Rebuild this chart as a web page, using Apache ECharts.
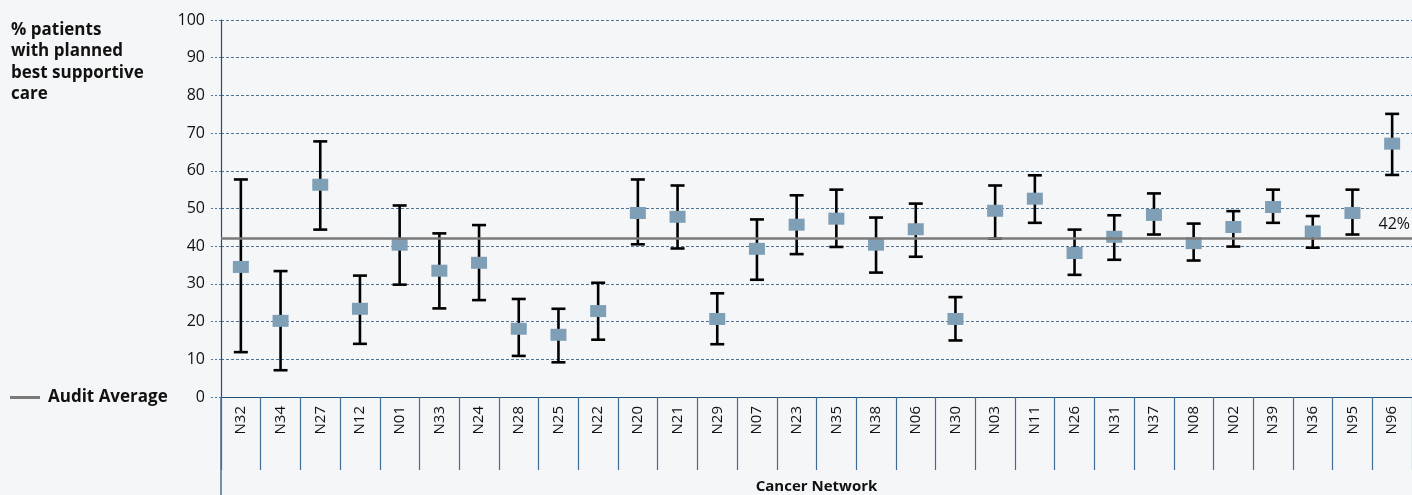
<!DOCTYPE html>
<html>
<head>
<meta charset="utf-8">
<script src="https://cdn.jsdelivr.net/npm/echarts@6/dist/echarts.min.js"></script>
<style>
  html, body { margin: 0; padding: 0; background: #f5f6f8; }
  #chart { width: 1412px; height: 495px; }
</style>
</head>
<body>
<div id="chart"></div>
<script>
// Cancer networks, ordered as shown along the x axis
const categories = ['N32','N34','N27','N12','N01','N33','N24','N28','N25','N22','N20','N21','N29','N07','N23',
                    'N35','N38','N06','N30','N03','N11','N26','N31','N37','N08','N02','N39','N36','N95','N96'];
// % patients with planned best supportive care, per network
const rates = [34.5,20.2,56.3,23.4,40.4,33.5,35.6,18.1,16.5,22.8,48.8,47.8,20.7,39.3,45.7,
               47.3,40.4,44.5,20.7,49.4,52.6,38.2,42.5,48.3,40.8,45.1,50.4,43.9,48.8,67.2];
// 95% confidence interval bounds
const lower = [11.9,7.1,44.4,14.1,29.8,23.5,25.7,10.9,9.2,15.2,40.5,39.4,14.0,31.1,37.9,
               39.8,33.0,37.2,15.0,42.0,46.2,32.4,36.4,43.1,36.2,39.9,46.2,39.6,43.1,58.9];
const upper = [57.7,33.4,67.8,32.2,50.8,43.4,45.6,26.0,23.4,30.3,57.7,56.1,27.5,47.1,53.5,
               55.0,47.6,51.3,26.5,56.1,58.8,44.4,48.2,54.0,46.0,49.3,55.0,48.0,55.0,75.1];
const auditAverage = 42;
const yTicks = { min: 0, max: 100, interval: 10 };

const FONT = '"Open Sans", "Noto Sans", sans-serif';
const chart = echarts.init(document.getElementById('chart'), null, { renderer: 'canvas' });

const intervalData = categories.map((c, i) => [i, lower[i], upper[i]]);

const option = {
  backgroundColor: '#f5f6f8',
  animation: false,
  textStyle: { fontFamily: FONT },
  title: {
    text: '% patients\nwith planned\nbest supportive\ncare',
    left: 11,
    top: 19,
    padding: 0,
    textStyle: { fontFamily: FONT, fontSize: 17, fontWeight: 'bold', color: '#111', lineHeight: 21.5 }
  },
  legend: {
    data: [{ name: 'Audit Average', icon: 'rect' }],
    left: 10,
    top: 389,
    padding: 0,
    itemWidth: 30,
    itemHeight: 3,
    itemGap: 8,
    textStyle: { fontFamily: FONT, fontSize: 17, fontWeight: 'bold', color: '#111', padding: [0, 0, 0, 3] }
  },
  grid: { left: 221, right: 0, top: 20, bottom: 98, containLabel: false, outerBoundsMode: 'none' },
  xAxis: {
    type: 'category',
    data: categories,
    boundaryGap: true,
    name: 'Cancer Network',
    nameLocation: 'middle',
    nameGap: 82,
    nameTextStyle: { fontFamily: FONT, fontSize: 15, fontWeight: 'bold', color: '#111' },
    axisLine: { lineStyle: { color: '#1f4e79', width: 1.2 } },
    axisTick: { show: true, interval: 0, length: 73, lineStyle: { color: '#3f6d96', width: 1.2 } },
    axisLabel: { interval: 0, rotate: 90, margin: 9, fontSize: 15, color: '#111', fontFamily: FONT },
    splitLine: { show: false }
  },
  yAxis: {
    type: 'value',
    min: yTicks.min,
    max: yTicks.max,
    interval: yTicks.interval,
    axisLine: { show: true, lineStyle: { color: '#1f4e79', width: 1.2 } },
    axisTick: { show: true, length: 11, lineStyle: { color: '#4d7aa0', width: 1, type: [2, 2] } },
    axisLabel: { margin: 16, fontSize: 16, color: '#111', fontFamily: FONT },
    splitLine: { show: true, lineStyle: { color: '#4d7396', width: 1, type: [3, 2] } }
  },
  series: [
    {
      name: 'Audit Average',
      type: 'line',
      data: [],
      z: 1,
      color: '#7a7a7a',
      lineStyle: { color: '#7a7a7a', width: 3 },
      itemStyle: { color: '#7a7a7a' },
      markLine: {
        silent: true,
        symbol: ['none', 'none'],
        lineStyle: { color: '#7a7a7a', width: 2.6, type: 'solid' },
        label: {
          show: true,
          position: 'insideEndTop',
          formatter: '{c}%',
          fontFamily: FONT,
          fontSize: 16,
          color: '#111',
          distance: [2, 6]
        },
        data: [{ yAxis: auditAverage }]
      }
    },
    {
      name: 'Confidence interval',
      type: 'custom',
      z: 3,
      data: intervalData,
      renderItem: function (params, api) {
        const x = api.value(0);
        const lo = api.coord([x, api.value(1)]);
        const hi = api.coord([x, api.value(2)]);
        const half = 7;
        const style = { stroke: '#000', lineWidth: 2.6 };
        return {
          type: 'group',
          children: [
            { type: 'line', shape: { x1: lo[0], y1: lo[1], x2: hi[0], y2: hi[1] }, style: style },
            { type: 'line', shape: { x1: hi[0] - half, y1: hi[1], x2: hi[0] + half, y2: hi[1] }, style: style },
            { type: 'line', shape: { x1: lo[0] - half, y1: lo[1], x2: lo[0] + half, y2: lo[1] }, style: style }
          ]
        };
      }
    },
    {
      name: 'Network rate',
      type: 'scatter',
      z: 4,
      symbol: 'rect',
      symbolSize: [16, 12],
      itemStyle: { color: '#7f9fb6', opacity: 1 },
      data: rates
    }
  ]
};

chart.setOption(option);

// Extend the y axis line below the category labels
const zeroY = chart.convertToPixel({ yAxisIndex: 0 }, 0);
const step = chart.convertToPixel({ xAxisIndex: 0 }, 1) - chart.convertToPixel({ xAxisIndex: 0 }, 0);
const axisX = chart.convertToPixel({ xAxisIndex: 0 }, 0) - step / 2;
chart.setOption({
  graphic: [{
    type: 'line',
    silent: true,
    shape: { x1: axisX, y1: zeroY, x2: axisX, y2: 495 },
    style: { stroke: '#1f4e79', lineWidth: 1.2 }
  }]
});
</script>
</body>
</html>
